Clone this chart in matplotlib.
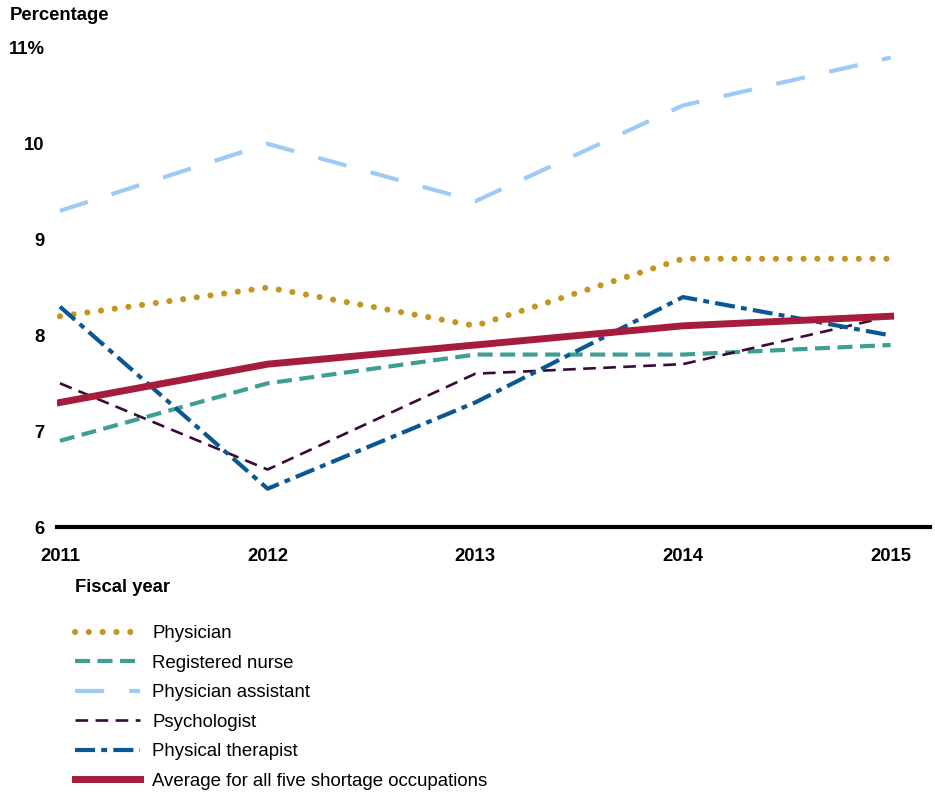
import matplotlib
matplotlib.use("Agg")
import matplotlib.pyplot as plt

plt.rcParams['font.family'] = ['Liberation Sans', 'DejaVu Sans']

# データ
years = [2011, 2012, 2013, 2014, 2015]
physician = [8.2, 8.5, 8.1, 8.8, 8.8]
nurse = [6.9, 7.5, 7.8, 7.8, 7.9]
phys_assistant = [9.3, 10.0, 9.4, 10.4, 10.9]
psychologist = [7.5, 6.6, 7.6, 7.7, 8.2]
therapist = [8.3, 6.4, 7.3, 8.4, 8.0]
average = [7.3, 7.7, 7.9, 8.1, 8.2]

y_ticks = [6, 7, 8, 9, 10, 11]
y_labels = ['6', '7', '8', '9', '10', '11%']

fig = plt.figure(figsize=(9.35, 7.93), dpi=100)
ax = fig.add_axes([0.061, 0.3354, 0.9337, 0.6041])

ax.plot(years, physician, color='#C4961F', lw=4.4, linestyle=(0, (0.01, 2.25)),
        dash_capstyle='round', label='Physician')
ax.plot(years, nurse, color='#3E9E94', lw=3, linestyle=(0, (3.6, 1.8)),
        label='Registered nurse')
ax.plot(years, phys_assistant, color='#9DCBF5', lw=3, linestyle=(0, (7, 6)),
        label='Physician assistant')
ax.plot(years, psychologist, color='#3A0A3A', lw=1.9, linestyle=(0, (4.8, 2.8)),
        label='Psychologist')
ax.plot(years, therapist, color='#0B5794', lw=3, linestyle=(0, (4.8, 1.5, 1.4, 1.5)),
        label='Physical therapist')
ax.plot(years, average, color='#A61C3C', lw=5,
        label='Average for all five shortage occupations')

ax.set_xlim(2010.986, 2015.19)
ax.set_ylim(6, 11)
ax.set_xticks(years)
ax.set_xticklabels([str(y) for y in years], fontsize=13.3, fontweight='bold')
ax.set_yticks(y_ticks)
ax.set_yticklabels(y_labels, fontsize=13.3, fontweight='bold')
ax.tick_params(axis='y', length=0, pad=9)
ax.tick_params(axis='x', length=0, pad=15)

for s in ['left', 'right', 'top']:
    ax.spines[s].set_visible(False)
ax.spines['bottom'].set_linewidth(3)
ax.spines['bottom'].set_color('black')

fig.text(10 / 935, 1 - 16 / 793, 'Percentage', fontsize=13.3, fontweight='bold',
         va='center', ha='left')
fig.text(75 / 935, 1 - 588 / 793, 'Fiscal year', fontsize=13.3, fontweight='bold',
         va='center', ha='left')

fig.legend(loc='upper left', bbox_to_anchor=(75 / 935, 1 - 625 / 793),
           frameon=False, fontsize=13.4, handlelength=3.5, handletextpad=0.65,
           labelspacing=0.67, borderaxespad=0, borderpad=0)

plt.savefig('out.png', dpi=100)
